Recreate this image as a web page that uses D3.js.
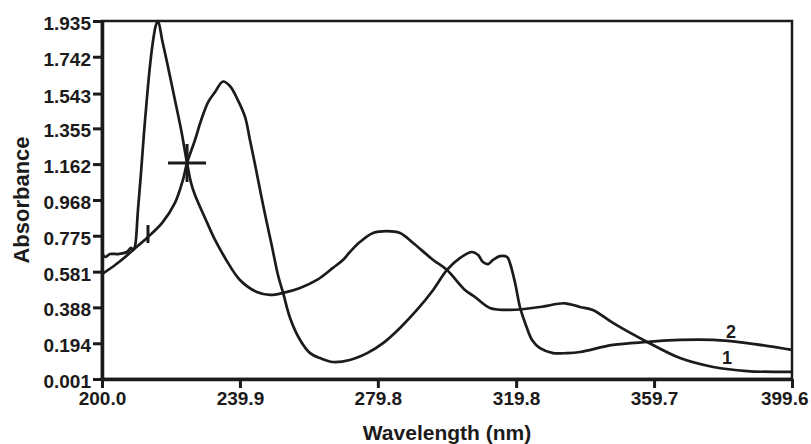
<!DOCTYPE html>
<meta charset="utf-8">
<style>
  body { margin: 0; background: #fff; }
  text { font-family: "Liberation Sans", Arial, sans-serif; font-weight: bold; fill: #1c1a1a; }
</style>
<script src="https://d3js.org/d3.v7.min.js"></script>
<div id="my_dataviz"></div>
<script>
  // tick labels
  var xTicks = [200.0, 239.9, 279.8, 319.8, 359.7, 399.6];
  var yTicks = [0.001, 0.194, 0.388, 0.581, 0.775, 0.968, 1.162, 1.355, 1.543, 1.742, 1.935];

  // spectrum 1
  var wave1 = [200.0, 200.9, 202.3, 204.6, 207.2, 208.4, 209.0, 209.5, 210.4, 211.3, 212.1, 213.0, 213.9, 214.8,
    215.6, 216.2, 217.4, 218.8, 221.1, 222.9, 224.6, 225.7, 226.9, 229.8, 232.7, 235.6, 239.9, 244.8,
    248.6, 252.4, 257.3, 262.2, 266.8, 269.7, 271.7, 274.6, 278.4, 282.4, 286.2, 290.0, 295.8, 299.8,
    305.0, 307.9, 312.2, 318.0, 326.7, 333.9, 338.3, 342.0, 347.8, 357.7, 367.2, 376.8, 386.6, 399.6];
  var abs1 = [0.682, 0.660, 0.676, 0.676, 0.687, 0.709, 0.698, 0.714, 0.914, 1.119, 1.319, 1.519, 1.697, 1.832,
    1.913, 1.935, 1.832, 1.713, 1.508, 1.346, 1.168, 1.065, 0.995, 0.871, 0.752, 0.655, 0.536, 0.471,
    0.455, 0.466, 0.493, 0.536, 0.601, 0.644, 0.687, 0.741, 0.790, 0.800, 0.790, 0.736, 0.644, 0.590,
    0.482, 0.444, 0.385, 0.374, 0.390, 0.410, 0.390, 0.374, 0.304, 0.201, 0.114, 0.066, 0.044, 0.039];

  // spectrum 2
  var wave2 = [200.0, 203.8, 206.7, 209.0, 213.3, 217.4, 221.1, 223.4, 224.6, 226.9, 228.6, 230.7, 232.7, 235.0,
    237.0, 239.3, 241.4, 242.8, 244.3, 246.6, 249.2, 250.9, 252.4, 254.4, 257.3, 260.2, 263.1, 266.8,
    271.7, 276.7, 281.3, 286.2, 291.1, 295.8, 299.8, 303.6, 307.0, 308.8, 310.2, 311.7, 313.1, 315.1,
    317.2, 318.0, 319.5, 320.9, 322.4, 324.4, 326.7, 330.5, 334.5, 338.3, 347.8, 357.7, 367.2, 376.8,
    386.6, 399.6];
  var abs2 = [0.568, 0.617, 0.660, 0.698, 0.768, 0.844, 0.952, 1.076, 1.168, 1.292, 1.395, 1.497, 1.551, 1.608,
    1.584, 1.508, 1.416, 1.292, 1.157, 0.941, 0.714, 0.563, 0.466, 0.331, 0.212, 0.141, 0.114, 0.093,
    0.104, 0.141, 0.195, 0.277, 0.374, 0.482, 0.590, 0.655, 0.687, 0.671, 0.633, 0.622, 0.644, 0.665,
    0.660, 0.628, 0.520, 0.390, 0.304, 0.212, 0.168, 0.141, 0.141, 0.147, 0.185, 0.201, 0.212, 0.212,
    0.195, 0.158];

  // markers drawn on the spectra
  var crossMark = { wave: 224.6, abs: 1.168 };
  var tickMark = { wave: 213.3, abs: 0.784 };

  var width = 811, height = 444;
  var margin = { top: 21, right: 19, bottom: 65, left: 102 };
  var ink = "#1c1a1a";

  var svg = d3.select("#my_dataviz")
    .append("svg")
    .attr("width", width)
    .attr("height", height);

  var x = d3.scaleLinear().domain([200.0, 399.6]).range([margin.left, width - margin.right]);
  var y = d3.scaleLinear().domain([0.001, 1.935]).range([height - margin.bottom, margin.top]);

  // frame
  svg.append("rect")
    .attr("x", x(200.0))
    .attr("y", y(1.935))
    .attr("width", x(399.6) - x(200.0))
    .attr("height", y(0.001) - y(1.935))
    .attr("fill", "none")
    .attr("stroke", ink)
    .attr("stroke-width", 2.5);

  // axes
  var xAxis = svg.append("g")
    .attr("transform", "translate(0," + y(0.001) + ")")
    .call(d3.axisBottom(x).tickValues(xTicks).tickFormat(d3.format(".1f")).tickSize(9).tickSizeOuter(0));
  var yAxis = svg.append("g")
    .attr("transform", "translate(" + x(200.0) + ",0)")
    .call(d3.axisLeft(y).tickValues(yTicks).tickFormat(d3.format(".3f")).tickSize(9).tickSizeOuter(0));

  [xAxis, yAxis].forEach(function (g) {
    g.select(".domain").attr("stroke", ink).attr("stroke-width", 3.5);
    g.selectAll(".tick line").attr("stroke", ink).attr("stroke-width", 3);
    g.selectAll(".tick text").style("font-size", "19px").attr("fill", ink);
  });
  xAxis.selectAll(".tick text").attr("dy", "0.75em").attr("y", 12);
  // last label kept inside the page, as in the original
  xAxis.selectAll(".tick text")
    .filter(function (d) { return d === 399.6; })
    .attr("text-anchor", "end")
    .attr("x", 16);
  yAxis.selectAll(".tick text").attr("x", -11).attr("dy", "0.45em");

  // spectra
  var line = d3.line()
    .x(function (d) { return x(d[0]); })
    .y(function (d) { return y(d[1]); })
    .curve(d3.curveCatmullRom.alpha(0.5));

  svg.append("path")
    .datum(d3.zip(wave1, abs1))
    .attr("d", line)
    .attr("fill", "none")
    .attr("stroke", ink)
    .attr("stroke-width", 2.7);

  svg.append("path")
    .datum(d3.zip(wave2, abs2))
    .attr("d", line)
    .attr("fill", "none")
    .attr("stroke", ink)
    .attr("stroke-width", 2.7);

  // crosshair at intersection
  var cx = x(crossMark.wave), cy = y(crossMark.abs);
  svg.append("line").attr("x1", cx - 19).attr("x2", cx + 19).attr("y1", cy).attr("y2", cy)
    .attr("stroke", ink).attr("stroke-width", 3);
  svg.append("line").attr("x1", cx).attr("x2", cx).attr("y1", cy - 19).attr("y2", cy + 19)
    .attr("stroke", ink).attr("stroke-width", 3);

  // small vertical mark
  var tx = x(tickMark.wave), ty = y(tickMark.abs);
  svg.append("line").attr("x1", tx).attr("x2", tx).attr("y1", ty - 9).attr("y2", ty + 9)
    .attr("stroke", ink).attr("stroke-width", 3);

  // curve labels
  svg.append("text").attr("x", x(386.6) - 16).attr("y", y(0.212) - 2)
    .attr("text-anchor", "middle").style("font-size", "18px").text("2");
  svg.append("text").attr("x", x(386.6) - 20).attr("y", y(0.044) - 7)
    .attr("text-anchor", "middle").style("font-size", "18px").text("1");

  // axis titles
  svg.append("text")
    .attr("x", (x(200.0) + x(399.6)) / 2)
    .attr("y", 440)
    .attr("text-anchor", "middle")
    .style("font-size", "21px")
    .text("Wavelength (nm)");

  svg.append("text")
    .attr("transform", "translate(29," + 200 + ") rotate(-90)")
    .attr("text-anchor", "middle")
    .style("font-size", "22px")
    .text("Absorbance");
</script>
